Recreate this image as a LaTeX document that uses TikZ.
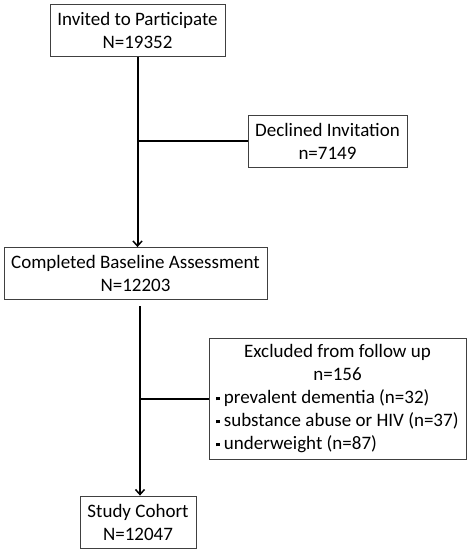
\documentclass[tikz,border=0pt]{standalone}
\usepackage{fontspec}
\setmainfont{Carlito}
\usetikzlibrary{positioning,arrows.meta}
\tikzset{
	every node/.style = {font=\fontsize{19}{23}\selectfont, inner sep = 3},
	stagebox/.style = {draw=black!75, line width=0.8pt, minimum height=52, align=center},
	flow/.style = {line width=2pt},
	>={Straight Barb[length=5pt,width=9pt,line width=1.5pt]}
}
\newcommand{\blt}{\rule[0.3ex]{3.5pt}{3.5pt}\hspace{4pt}}

\begin{document}
\begin{tikzpicture}[x=1pt,y=1pt]
		\useasboundingbox (0,0) rectangle (471,-553);
		\node[stagebox, minimum width=175] (invited) at (137.5,-30.5) {Invited to Participate\\N=19352};
		\node[stagebox, minimum width=159] (declined) at (327.5,-141) {Declined Invitation\\n=7149};
		\node[stagebox, minimum width=263] (completed) at (135.5,-273.5) {Completed Baseline Assessment\\N=12203};
		\node[stagebox, minimum width=257, minimum height=121] (excluded) at (337.5,-398.5) {%
			\begin{tabular}{@{}l@{}}
				\multicolumn{1}{@{}c@{}}{Excluded from follow up}\\
				\multicolumn{1}{@{}c@{}}{n=156}\\
				\blt prevalent dementia (n=32)\\
				\blt substance abuse or HIV (n=37)\\
				\blt underweight (n=87)
			\end{tabular}};
		\node[stagebox, minimum width=116] (cohort) at (138,-522) {Study Cohort\\N=12047};
		
		\coordinate (split1) at (invited.south |- declined.west);
		\coordinate (top2) at (140,-306);
		\coordinate (split2) at (top2 |- excluded.west);
		
		\draw[flow,->] (invited.south) -- (invited.south |- completed.north);
		\draw[flow] (split1) -- (declined.west);
		\draw[flow,->] (top2) -- (top2 |- cohort.north);
		\draw[flow] (split2) -- (excluded.west);
\end{tikzpicture}
\end{document}
